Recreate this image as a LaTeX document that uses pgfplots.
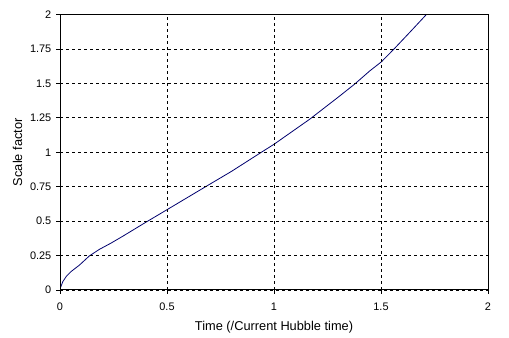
\documentclass[border=0pt]{standalone}
\usepackage{pgfplots}
\pgfplotsset{compat=1.18}
\usepackage{fontspec}
\setmainfont{Liberation Sans}
\definecolor{navy}{RGB}{0,0,110}
\begin{document}
\begin{tikzpicture}
\begin{axis}[
  name=ax,
  scale only axis,
  width=321pt, height=206.6pt,
  xmin=0, xmax=2, ymin=0, ymax=2,
  xtick={0,0.5,1,1.5,2},
  ytick={0,0.25,0.5,0.75,1,1.25,1.5,1.75,2},
  yticklabels={0,0.25,0.5,0.75,1,1.25,1.5,1.75,2},
  xticklabels={0,0.5,1,1.5,2},
  /pgf/number format/assume math mode=true,
  tick label style={font=\fontsize{8.2}{9}\selectfont},
  xticklabel style={yshift=-3pt},
  label style={font=\fontsize{9.6}{11}\selectfont},
  xlabel={Time (/Current Hubble time)},
  ylabel={Scale factor},
  xlabel style={yshift=-1pt},
  ylabel style={yshift=-1pt},
  grid=major,
  major grid style={black, dashed, line width=0.6pt, dash pattern=on 2.5pt off 2pt},
  axis line style={black, line width=0.75pt},
  tick style={black, line width=0.6pt},
  tick align=outside,
  major tick length=3pt,
  xtick pos=bottom, ytick pos=left,
  axis on top,
]
\addplot[navy, line width=0.6pt] coordinates {
(0,0) (0.003,0.02) (0.013,0.06) (0.03,0.10) (0.051,0.133) (0.091,0.181)
(0.137,0.247) (0.184,0.295) (0.238,0.34) (0.293,0.39) (0.396,0.487)
(0.5,0.583) (0.676,0.746) (0.8,0.86) (0.941,1.0) (1.0,1.058)
(1.166,1.239) (1.3,1.40) (1.377,1.495) (1.447,1.59) (1.502,1.657)
(1.561,1.75) (1.64,1.88) (1.712,2.0)
};
\end{axis}
\path (ax.south west) ++(-45pt,-35.25pt);
\path (ax.north east) ++(15.75pt,10.9pt);
\end{tikzpicture}
\end{document}
